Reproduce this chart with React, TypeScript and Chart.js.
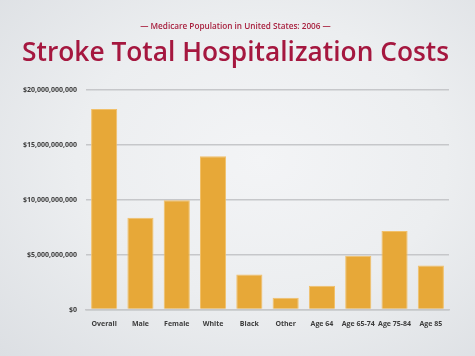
import React, { useEffect, useRef } from "react";
import { Chart, registerables } from "chart.js";

Chart.register(...registerables);

const categories = ["Overall", "Male", "Female", "White", "Black", "Other", "Age 64", "Age 65-74", "Age 75-84", "Age 85"];
const costs = [18.25e9, 8.35e9, 9.95e9, 13.95e9, 3.2e9, 1.08e9, 2.17e9, 4.9e9, 7.14e9, 4.0e9];
const subtitleText = "— Medicare Population in United States: 2006 —";
const titleText = "Stroke Total Hospitalization Costs";

export default function App() {
  const ref = useRef<HTMLCanvasElement>(null);
  useEffect(() => {
    document.body.style.margin = "0";
    const chart = new Chart(ref.current!, {
      type: "bar",
      data: {
        labels: categories,
        datasets: [
          {
            data: costs,
            backgroundColor: "#E7A838",
            borderColor: "#F1C06A",
            borderWidth: 1,
            barPercentage: 0.72,
            categoryPercentage: 1,
          },
        ],
      },
      options: {
        animation: false,
        responsive: false,
        layout: { padding: { left: 22, right: 26, top: 22, bottom: 26 } },
        plugins: {
          legend: { display: false },
          tooltip: { enabled: false },
          subtitle: {
            display: true,
            text: subtitleText,
            color: "#A8213F",
            font: { family: "Open Sans", size: 8.2, weight: "600" },
            padding: { top: 0, bottom: 6 },
            position: "top",
            weight: 3000,
          },
          title: {
            display: true,
            text: titleText,
            color: "#A5173F",
            font: { family: "Open Sans", size: 26.5, weight: "600" },
            padding: { top: 0, bottom: 20 },
          },
        },
        scales: {
          x: {
            grid: { display: false },
            border: { color: "#c6c7ca", width: 1.5 },
            ticks: {
              color: "#3d3d3d",
              font: { family: "Open Sans", size: 7, weight: "bold" },
              maxRotation: 0,
              autoSkip: false,
              padding: 2,
            },
          },
          y: {
            min: 0,
            max: 20e9,
            afterFit: (s: any) => {
              s.width = 64;
            },
            grid: { color: "#c6c7ca", lineWidth: 1.5, drawTicks: false },
            border: { display: false },
            ticks: {
              stepSize: 5e9,
              color: "#3d3d3d",
              padding: 9,
              font: { family: "Open Sans", size: 7, weight: "bold" },
              callback: (v: any) => "$" + Number(v).toLocaleString("en-US"),
            },
          },
        },
      },
    });
    return () => chart.destroy();
  }, []);
  return (
    <div
      style={{
        position: "absolute",
        left: 0,
        top: 0,
        width: 475,
        height: 356,
        background: "radial-gradient(ellipse at 55% 45%, #f3f4f6 0%, #eceef0 50%, #dcdfe3 100%)",
      }}
    >
      <canvas ref={ref} width={475} height={356} />
    </div>
  );
}
